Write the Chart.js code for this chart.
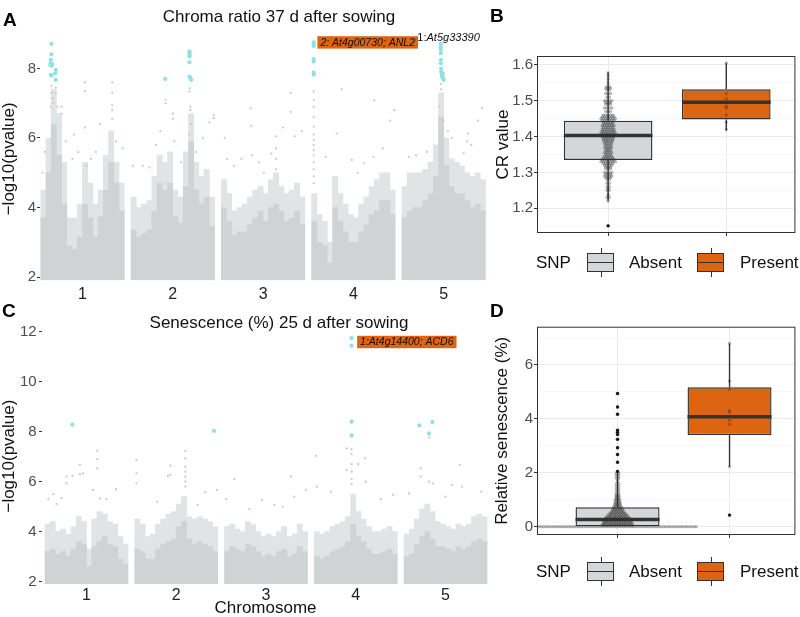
<!DOCTYPE html>
<html>
<head>
<meta charset="utf-8">
<script src="https://cdn.jsdelivr.net/npm/chart.js@4.4.1/dist/chart.umd.min.js"></script>
<style>
body { margin: 0; background: #fff; font-family: "Liberation Sans", Arial, sans-serif; }
#page { position: relative; width: 800px; height: 617px; overflow: hidden; }
canvas { position: absolute; }
.tag { position: absolute; font-weight: bold; font-size: 19px; line-height: 19px; color: #000; }
.lg { position: absolute; font-size: 17px; line-height: 17px; color: #111; white-space: nowrap; }
.key { position: absolute; width: 27px; height: 19px; border: 1px solid #333; box-sizing: border-box; }
.key i { position: absolute; background: #333; }
.key .mid { left: 0; right: 0; top: 7.8px; height: 1.5px; }
.key .wt, .key .wb { left: 12.5px; width: 1px; height: 5px; }
.key .wt { top: -6px; }
.key .wb { bottom: -6px; }
</style>
</head>
<body>
<div id="page">
  <canvas id="chartA" width="558" height="300" style="left:0;top:0"></canvas>
  <canvas id="chartC" width="558" height="317" style="left:0;top:300px"></canvas>
  <canvas id="chartB" width="320" height="245" style="left:480px;top:0"></canvas>
  <canvas id="chartD" width="320" height="250" style="left:480px;top:300px"></canvas>

  <div class="tag" style="left:3px;top:9.5px">A</div>
  <div class="tag" style="left:490px;top:6px">B</div>
  <div class="tag" style="left:2px;top:301px">C</div>
  <div class="tag" style="left:490px;top:301px">D</div>

  <div class="lg" style="left:536px;top:254px">SNP</div>
  <div class="key" style="left:587px;top:253px;background:#d4d7d9"><i class="mid"></i><i class="wt"></i><i class="wb"></i></div>
  <div class="lg" style="left:629px;top:254px">Absent</div>
  <div class="key" style="left:697px;top:253px;background:#dd6410"><i class="mid"></i><i class="wt"></i><i class="wb"></i></div>
  <div class="lg" style="left:740px;top:254px">Present</div>

  <div class="lg" style="left:536px;top:563px">SNP</div>
  <div class="key" style="left:587px;top:562px;background:#d4d7d9"><i class="mid"></i><i class="wt"></i><i class="wb"></i></div>
  <div class="lg" style="left:629px;top:563px">Absent</div>
  <div class="key" style="left:697px;top:562px;background:#dd6410"><i class="mid"></i><i class="wt"></i><i class="wb"></i></div>
  <div class="lg" style="left:740px;top:563px">Present</div>
</div>

<script>
const FONT = '"Liberation Sans", Arial, sans-serif';
Chart.defaults.font.family = FONT;

const chromosomes = ['1', '2', '3', '4', '5'];
const chrSpan = 0.925;   // part of each chromosome slot that holds markers
const pBase = 1.92;

// ---- A: chroma ratio GWAS (16 bins per chromosome: solid band top, speckled top)
const chromaCore = [
  [3.7, 5.0, 6.4, 5.5, 4.1, 2.9, 2.8, 3.15, 4.1, 3.7, 3.15, 3.74, 4.5, 5.3, 4.7, 3.9],
  [3.35, 3.16, 3.25, 3.35, 3.9, 4.7, 4.5, 4.7, 3.74, 3.55, 4.6, 5.9, 4.5, 4.1, 4.3, 3.45],
  [4.0, 3.6, 3.2, 3.3, 3.3, 3.5, 3.7, 3.9, 3.6, 4.0, 4.1, 3.9, 3.6, 3.7, 3.9, 3.5],
  [3.6, 3.0, 2.9, 2.4, 4.0, 3.6, 3.3, 3.0, 3.0, 3.3, 3.5, 3.8, 3.9, 4.2, 4.2, 3.8],
  [3.7, 3.9, 4.0, 4.0, 4.2, 4.4, 4.9, 6.6, 5.2, 4.6, 4.4, 4.4, 4.2, 4.0, 4.1, 3.9]
];
const chromaHalo = [
  [4.5, 6.0, 7.4, 6.7, 5.3, 3.7, 3.7, 4.1, 5.3, 4.7, 4.1, 4.5, 5.5, 6.2, 5.3, 4.7],
  [4.3, 4.0, 4.1, 4.2, 4.9, 5.5, 5.3, 5.6, 4.5, 4.3, 5.6, 6.7, 5.3, 4.9, 5.1, 4.3],
  [4.8, 4.4, 3.9, 4.0, 4.1, 4.3, 4.5, 4.6, 4.4, 4.8, 5.0, 4.6, 4.4, 4.5, 4.7, 4.3],
  [4.4, 3.8, 3.6, 3.0, 4.9, 4.4, 4.1, 3.8, 3.7, 4.1, 4.3, 4.6, 4.8, 5.0, 5.0, 4.5],
  [4.6, 5.0, 5.0, 5.0, 5.1, 5.3, 5.8, 7.3, 6.0, 5.4, 5.3, 5.2, 5.0, 4.9, 5.0, 4.8]
];
// [chromosome, position in chromosome 0-1, -log10 p]
const chromaSparse = [
  [1,.128,7.5],[1,.128,7.3],[1,.14,7.15],[1,.15,7.0],[1,.12,6.9],[1,.18,7.45],[1,.18,7.3],[1,.2,6.9],
  [1,.25,6.9],[1,.25,6.7],[1,.53,7.6],[1,.53,7.35],[1,.53,6.3],[1,.71,6.4],[1,.4,6.1],[1,.856,7.6],
  [1,.856,7.3],[1,.856,6.95],[1,.856,6.8],[1,.856,6.55],[1,.98,5.7],[1,.6,5.4],[1,.55,5.2],[1,.38,5.4],
  [1,.45,5.6],[1,.3,5.9],[1,.66,5.6],[1,.9,5.9],[1,.05,5.6],[1,.02,5.0],
  [2,.415,7.1],[2,.415,7.0],[2,.5,6.7],[2,.5,6.55],[2,.94,6.45],[2,.99,6.66],[2,.99,6.57],[2,.35,6.2],
  [2,.02,5.2],[2,.14,5.2],[2,.22,5.15],[2,.70,7.43],[2,.70,7.34],[2,.71,6.9],[2,.71,6.8],[2,.72,6.4],
  [2,.70,6.1],[2,.86,6.0],[2,.52,5.9],[2,.6,5.3],[2,.78,5.6],[2,.3,5.8],
  [3,.04,6.0],[3,.07,5.4],[3,.35,6.85],[3,.36,6.35],[3,.37,5.5],[3,.24,5.4],[3,.83,7.3],[3,.83,6.75],
  [3,.74,6.3],[3,.655,6.05],[3,.655,5.7],[3,.655,5.4],[3,.655,5.1],[3,.965,6.2],[3,.88,6.05],[3,.51,5.0],
  [3,.6,5.55],[3,.15,5.2],[3,.45,5.3],
  [4,.025,7.34],[4,.025,7.1],[4,.025,6.9],[4,.025,6.6],[4,.025,6.33],[4,.025,6.1],[4,.025,5.95],[4,.025,5.8],
  [4,.025,5.65],[4,.025,5.5],[4,.025,5.3],[4,.025,5.1],[4,.025,4.9],[4,.025,4.7],[4,.36,7.4],[4,.75,7.08],
  [4,.99,6.8],[4,.94,6.5],[4,.3,6.13],[4,.48,5.37],[4,.63,5.27],[4,.74,5.46],[4,.17,5.46],[4,.55,5.0],[4,.85,5.7],
  [5,.466,7.55],[5,.47,7.4],[5,.96,6.86],[5,.91,6.5],[5,.79,6.13],[5,.78,5.9],[5,.085,5.46],[5,.17,5.5],
  [5,.74,5.56],[5,.83,5.8],[5,.3,5.6],[5,.55,6.2],[5,.6,6.0],[5,.45,6.9],[5,.5,6.5]
];
const chromaHits = [
  [1,.128,8.71],[1,.128,8.41],[1,.12,8.25],[1,.12,8.15],[1,.13,8.08],[1,.12,7.82],[1,.13,7.8],[1,.18,7.96],
  [1,.175,7.86],[1,.18,7.67],[1,.115,8.1],[1,.14,8.12],
  [2,.41,7.7],[2,.70,8.49],[2,.70,8.44],[2,.70,8.39],[2,.70,8.35],[2,.70,8.18],[2,.70,7.77],[2,.71,7.72],[2,.72,7.67],
  [4,.025,8.75],[4,.025,8.7],[4,.025,8.65],[4,.025,8.27],[4,.025,8.2],[4,.025,7.88],[4,.025,7.82],
  [5,.466,8.71],[5,.466,8.63],[5,.466,8.54],[5,.466,8.44],[5,.466,8.25],[5,.466,8.15],[5,.47,8.0],[5,.47,7.9],
  [5,.48,7.85],[5,.48,7.78],[5,.49,7.72],[5,.5,7.67],[5,.49,7.85]
];
const chromaLabels = [
  { chr: 4, pos: 0.025, value: 8.75, dx: 3.7, dy: 0, text: '2: At4g00730; ANL2', boxed: true },
  { chr: 5, pos: 0.466, value: 8.71, dx: -23.5, dy: -5.5, prefix: '1:', text: 'At5g33390' }
];
const chromaTicks = [2, 4, 6, 8];

// ---- C: senescence GWAS
const senCore = [
  [3.2, 3.3, 3.1, 3.2, 3.0, 3.3, 3.6, 3.5, 2.6, 3.4, 3.6, 3.8, 3.5, 3.4, 2.9, 2.7],
  [3.3, 3.2, 2.9, 2.9, 3.3, 3.5, 3.6, 3.7, 4.2, 4.4, 3.7, 3.5, 3.6, 3.5, 3.4, 3.2],
  [3.2, 3.4, 3.3, 3.2, 3.5, 3.4, 3.2, 3.0, 3.1, 3.0, 3.2, 3.3, 3.0, 3.1, 3.4, 3.2],
  [3.0, 2.9, 3.0, 3.2, 3.3, 3.4, 3.6, 4.3, 3.8, 3.6, 3.3, 3.1, 3.1, 3.2, 3.3, 3.1],
  [3.0, 3.1, 3.5, 3.8, 4.0, 3.7, 3.4, 3.4, 3.3, 3.2, 3.4, 3.3, 3.4, 3.6, 3.7, 3.6]
];
const senHalo = [
  [4.3, 4.4, 4.0, 4.1, 3.9, 4.2, 4.6, 4.4, 3.3, 4.5, 4.8, 4.7, 4.4, 4.3, 3.8, 3.5],
  [4.5, 4.3, 3.8, 3.9, 4.3, 4.5, 4.7, 4.8, 5.1, 5.4, 4.6, 4.5, 4.6, 4.5, 4.4, 4.2],
  [4.2, 4.3, 4.1, 4.0, 4.4, 4.3, 4.0, 3.8, 3.9, 3.8, 4.0, 4.2, 3.8, 3.9, 4.3, 4.0],
  [4.0, 3.9, 4.0, 4.2, 4.3, 4.4, 4.6, 5.5, 4.8, 4.5, 4.2, 4.0, 4.0, 4.1, 4.2, 4.0],
  [3.9, 4.1, 4.5, 4.9, 5.1, 4.8, 4.4, 4.3, 4.2, 4.1, 4.3, 4.2, 4.3, 4.6, 4.7, 4.6]
];
const senSparse = [
  [1,.63,7.24],[1,.63,6.9],[1,.63,6.53],[1,.42,6.67],[1,.42,6.3],[1,.26,6.2],[1,.26,5.93],[1,.33,6.23],
  [1,.1,5.5],[1,.14,5.1],[1,.855,5.7],[1,.58,5.67],[1,.66,5.33],[1,.74,5.3],[1,.46,6.33],[1,.2,5.35],[1,.04,5.3],
  [2,.02,6.87],[2,.02,6.33],[2,.02,5.93],[2,.43,6.64],[2,.43,6.27],[2,.4,6.23],[2,.61,7.23],[2,.61,6.93],
  [2,.61,6.6],[2,.61,6.4],[2,.61,6.2],[2,.61,6.0],[2,.61,5.8],[2,.85,5.57],[2,.99,5.67],[2,.755,5.07],[2,.27,5.2],
  [3,.12,6.1],[3,.02,5.3],[3,.8,6.2],[3,.84,5.4],[3,.98,5.67],[3,.6,5.07],[3,.45,5.27],[3,.3,4.9],[3,.7,5.0],
  [4,.39,7.33],[4,.02,7.03],[4,.61,6.93],[4,.53,6.7],[4,.39,6.47],[4,.03,5.8],[4,.62,6.0],[4,.95,5.47],
  [4,.45,7.3],[4,.45,7.1],[4,.45,6.7],[4,.45,6.4],[4,.45,6.1],[4,.45,5.9],[4,.2,5.6],[4,.8,5.3],
  [5,.3,7.77],[5,.67,6.67],[5,.2,6.53],[5,.35,5.93],[5,.06,5.53],[5,.58,5.87],[5,.93,5.6],[5,.7,5.8],
  [5,.2,6.2],[5,.3,6.0],[5,.5,5.4]
];
const senHits = [
  [1,.33,8.28],[2,.955,8.03],[4,.45,11.74],[4,.45,11.44],[4,.45,8.4],[4,.45,7.85],
  [5,.185,8.25],[5,.34,8.39],[5,.3,7.93]
];
const senLabels = [
  { chr: 4, pos: 0.45, value: 11.74, dx: 5.5, dy: 3.8, text: '1:At4g14400; ACD6', boxed: true }
];
const senTicks = [2, 4, 6, 8, 10, 12];

// ---- B / D: phenotype by SNP
const snpGroups = ['Absent', 'Present'];
const groupFills = ['#d4d7d9', '#dd6410'];

const crQ1 = [1.335, 1.448];
const crMedian = [1.403, 1.496];
const crQ3 = [1.444, 1.532];
const crLow = [1.221, 1.417];
const crHigh = [1.579, 1.605];
const crOutliers = [[1, 1.151]];
const crTicks = [1.2, 1.3, 1.4, 1.5, 1.6];
// [value, number of plants]
const crDotsAbsent = [
  [1.578,1],[1.57,1],[1.56,1],[1.55,1],[1.54,2],[1.535,3],[1.53,2],[1.52,3],[1.51,2],[1.50,4],[1.495,3],
  [1.49,3],[1.48,4],[1.47,3],[1.46,5],[1.455,6],[1.45,7],[1.445,6],[1.44,5],[1.435,5],[1.43,6],[1.425,5],
  [1.42,6],[1.415,6],[1.41,7],[1.405,6],[1.40,6],[1.395,5],[1.39,5],[1.385,4],[1.38,4],[1.375,3],[1.37,4],
  [1.365,3],[1.36,3],[1.355,4],[1.35,3],[1.345,4],[1.34,5],[1.335,6],[1.33,7],[1.325,5],[1.32,4],[1.315,3],
  [1.31,3],[1.30,4],[1.295,3],[1.29,4],[1.285,3],[1.28,2],[1.27,2],[1.26,2],[1.255,1],[1.25,2],[1.24,1],
  [1.235,1],[1.23,2],[1.22,1],[1.151,1]
];
const crDotsPresent = [[1.605,1],[1.52,1],[1.505,1],[1.495,1],[1.485,1],[1.48,1],[1.46,1],[1.44,1],[1.42,1]];

const senQ1 = [0, 3.40];
const senMedian = [0.27, 4.08];
const senQ3 = [0.72, 5.17];
const senLow = [0, 2.23];
const senHigh = [1.98, 6.8];
const senOutliers = [[1,4.94],[1,4.44],[1,4.17],[1,3.58],[1,3.5],[1,3.42],[1,3.24],[1,2.93],[1,2.68],[1,2.39],[1,2.05],[2,0.43]];
const senBoxTicks = [0, 2, 4, 6];
const senDotsAbsent = [
  [0,64],[0.05,13],[0.1,13],[0.15,12],[0.2,12],[0.25,11],[0.3,11],[0.35,10],[0.4,9],[0.45,8],[0.5,7],
  [0.55,6],[0.6,5],[0.65,5],[0.7,4],[0.75,4],[0.8,3],[0.85,3],[0.9,3],[0.95,2],[1.0,3],[1.05,2],[1.1,2],
  [1.15,2],[1.2,2],[1.3,2],[1.4,2],[1.5,2],[1.6,2],[1.7,1],[1.8,2],[1.9,2],[1.98,2],[2.05,1],[2.39,1],
  [2.68,1],[2.93,1],[3.24,1],[3.42,1],[3.5,1],[3.58,1],[4.17,1],[4.44,1],[4.94,1]
];
const senDotsPresent = [[6.8,1],[5.4,1],[5.1,1],[4.3,1],[4.25,1],[3.95,1],[3.8,1],[2.23,1],[0.43,1]];

const grey = '#d0d3d3';
const greyHalo = '#e1e4e4';
const cyan = '#90e0e4';
const orange = '#dd6410';

function chrX(chr, pos) {
  return (chr - 1) + pos * chrSpan;
}

// gene labels next to the top hits
const geneLabels = {
  id: 'geneLabels',
  afterDatasetsDraw(chart, args, opts) {
    const { ctx, scales: { x, y } } = chart;
    (opts.items || []).forEach(it => {
      const px = x.getPixelForValue(chrX(it.chr, it.pos)) + it.dx;
      const py = y.getPixelForValue(it.value) + it.dy;
      ctx.save();
      ctx.textBaseline = 'middle';
      ctx.fillStyle = '#111';
      if (it.boxed) {
        ctx.font = 'italic 10.5px ' + FONT;
        const w = ctx.measureText(it.text).width;
        ctx.fillStyle = orange;
        ctx.fillRect(px, py - 6.2, w + 6, 12.4);
        ctx.fillStyle = '#111';
        ctx.fillText(it.text, px + 3, py + 0.5);
      } else {
        ctx.font = '11px ' + FONT;
        ctx.fillText(it.prefix, px, py);
        const w0 = ctx.measureText(it.prefix).width;
        ctx.font = 'italic 11px ' + FONT;
        ctx.fillText(it.text, px + w0, py);
      }
      ctx.restore();
    });
  }
};

const panelBorder = {
  id: 'panelBorder',
  afterDraw(chart) {
    const { ctx, chartArea: a } = chart;
    ctx.save();
    ctx.strokeStyle = '#333';
    ctx.lineWidth = 1;
    ctx.strokeRect(a.left + 0.5, a.top + 0.5, a.width - 1, a.height - 1);
    ctx.restore();
  }
};

function manhattanDatasets(core, halo, sparse, hits) {
  const coreData = [], haloData = [];
  core.forEach((bins, c) => bins.forEach((v, b) => {
    const x = chrX(c + 1, (b + 0.5) / bins.length);
    coreData.push({ x: x, y: [pBase, v] });
    haloData.push({ x: x, y: [v - 0.05, halo[c][b]] });
  }));
  const toPt = p => ({ x: chrX(p[0], p[1]), y: p[2] });
  return [
    { type: 'scatter', data: hits.map(toPt), pointRadius: 2.1, backgroundColor: cyan, borderWidth: 0, order: 0 },
    { type: 'scatter', data: sparse.map(toPt), pointRadius: 1.1, backgroundColor: '#c6caca', borderWidth: 0, order: 1 },
    { type: 'bar', data: coreData, backgroundColor: grey, grouped: false, barPercentage: 1, categoryPercentage: 1, order: 2 },
    { type: 'bar', data: haloData, backgroundColor: greyHalo, grouped: false, barPercentage: 1, categoryPercentage: 1, order: 3 }
  ];
}

function manhattanChart(id, cfg) {
  return new Chart(document.getElementById(id), {
    type: 'bar',
    data: { datasets: manhattanDatasets(cfg.core, cfg.halo, cfg.sparse, cfg.hits) },
    options: {
      responsive: false,
      animation: false,
      layout: { padding: 0 },
      plugins: {
        legend: { display: false },
        tooltip: { enabled: false },
        title: {
          display: true, text: cfg.title, color: '#111',
          font: { size: 17, weight: 'normal', family: FONT },
          padding: cfg.titlePad
        },
        geneLabels: { items: cfg.labels }
      },
      scales: {
        x: {
          type: 'linear', min: cfg.xMin, max: cfg.xMax, offset: false,
          grid: { display: false, drawTicks: false },
          border: { display: false },
          afterBuildTicks: s => { s.ticks = chromosomes.map((c, i) => ({ value: chrX(i + 1, 0.5) })); },
          ticks: {
            callback: (v, i) => chromosomes[i], autoSkip: false, maxRotation: 0,
            color: '#222', font: { size: 16, family: FONT }, padding: cfg.xPad
          },
          title: {
            display: !!cfg.xTitle, text: cfg.xTitle || '', color: '#111',
            font: { size: 17, family: FONT }, padding: { top: 0, bottom: -1.6 }
          },
          afterFit: s => { s.height = cfg.xHeight; }
        },
        y: {
          min: cfg.yMin, max: cfg.yMax, beginAtZero: false,
          afterBuildTicks: s => { s.ticks = cfg.ticks.map(v => ({ value: v })); },
          grid: { drawOnChartArea: false, drawTicks: true, tickLength: 3, tickColor: '#333' },
          border: { display: false },
          ticks: { color: '#4d4d4d', font: { size: 15, family: FONT }, padding: cfg.yPad },
          title: {
            display: true, text: '\u2212log10(pvalue)', color: '#111',
            font: { size: 17, family: FONT }, padding: { top: -1, bottom: 0 }
          },
          afterFit: s => { s.width = cfg.yWidth; }
        },
        pad: {
          type: 'linear', position: 'right', display: true,
          ticks: { display: false }, grid: { display: false }, border: { display: false },
          afterFit: s => { s.width = cfg.rightPad; }
        }
      }
    },
    plugins: [geneLabels]
  });
}

manhattanChart('chartA', {
  core: chromaCore, halo: chromaHalo, sparse: chromaSparse, hits: chromaHits, labels: chromaLabels,
  title: 'Chroma ratio 37 d after sowing', titlePad: { top: 7.4, bottom: 9.4 },
  xMin: -0.008, xMax: 4.931, xPad: 4, xHeight: 19.5,
  yMin: 1.9, yMax: 8.9, ticks: chromaTicks, yPad: 1, yWidth: 40, rightPad: 72
});

manhattanChart('chartC', {
  core: senCore, halo: senHalo, sparse: senSparse, hits: senHits, labels: senLabels,
  title: 'Senescence (%) 25 d after sowing', titlePad: { top: 13.3, bottom: -7.0 },
  xMin: -0.0334, xMax: 4.947, xPad: 1, xHeight: 31.55, xTitle: 'Chromosome',
  yMin: 1.85, yMax: 12.2, ticks: senTicks, yPad: 2.3, yWidth: 42, rightPad: 69
});

function stackDots(bins, center, step) {
  const pts = [];
  bins.forEach(([v, n]) => {
    for (let j = 0; j < n; j++) pts.push({ x: center + (j - (n - 1) / 2) * step, y: v });
  });
  return pts;
}

function boxDatasets(q1, med, q3, lo, hi) {
  const half = 0.375;
  return [
    {
      type: 'bar', data: snpGroups.map((g, i) => ({ x: i + 1, y: [q1[i], q3[i]] })),
      backgroundColor: groupFills, borderColor: '#333', borderWidth: 1.4, borderSkipped: false,
      grouped: false, barPercentage: 0.75, categoryPercentage: 1, order: 5
    },
    {
      type: 'line',
      data: snpGroups.flatMap((g, i) => [
        { x: i + 1, y: hi[i] }, { x: i + 1, y: q3[i] }, { x: i + 1, y: null },
        { x: i + 1, y: q1[i] }, { x: i + 1, y: lo[i] }, { x: i + 1, y: null }
      ]),
      borderColor: '#333', borderWidth: 1.4, pointRadius: 0, spanGaps: false, order: 6
    },
    {
      type: 'line',
      data: snpGroups.flatMap((g, i) => [
        { x: i + 1 - half, y: med[i] }, { x: i + 1 + half, y: med[i] }, { x: i + 1 + half, y: null }
      ]),
      borderColor: '#333', borderWidth: 3.5, borderCapStyle: 'butt', pointRadius: 0, spanGaps: false, order: 4
    }
  ];
}

function boxChart(id, cfg) {
  const step = cfg.ticks[1] - cfg.ticks[0];
  const minor = cfg.ticks.flatMap(v => [v - step / 2, v + step / 2])
    .filter((v, i, a) => v > cfg.yMin && v < cfg.yMax && a.indexOf(v) === i);
  const isMajor = v => cfg.ticks.some(t => Math.abs(t - v) < 1e-9);
  const dotStyle = {
    type: 'scatter', pointRadius: 1.3, backgroundColor: 'rgba(60,60,60,0.28)',
    borderColor: 'rgba(40,40,40,0.38)', borderWidth: 0.6, order: 2
  };
  return new Chart(document.getElementById(id), {
    type: 'bar',
    data: {
      datasets: [
        ...boxDatasets(cfg.q1, cfg.med, cfg.q3, cfg.lo, cfg.hi),
        Object.assign({ data: stackDots(cfg.dots[0], 1, cfg.dotStep) }, dotStyle),
        Object.assign({ data: stackDots(cfg.dots[1], 2, cfg.dotStep) }, dotStyle),
        {
          type: 'scatter', data: cfg.outliers.map(([g, v]) => ({ x: g, y: v })),
          pointRadius: 1.7, backgroundColor: '#1a1a1a', borderWidth: 0, order: 1
        }
      ]
    },
    options: {
      responsive: false,
      animation: false,
      layout: { padding: { top: cfg.top, right: 4, left: 0, bottom: 0 } },
      plugins: { legend: { display: false }, tooltip: { enabled: false } },
      scales: {
        x: {
          type: 'linear', min: cfg.xMin, max: cfg.xMax, offset: false,
          afterBuildTicks: s => { s.ticks = snpGroups.map((g, i) => ({ value: i + 1 })); },
          ticks: { callback: () => '', autoSkip: false },
          grid: { color: '#ebebeb', offset: false, drawTicks: true, tickLength: 3, tickColor: '#333' },
          border: { display: false },
          afterFit: s => { s.height = cfg.xHeight; }
        },
        y: {
          min: cfg.yMin, max: cfg.yMax, beginAtZero: false,
          afterBuildTicks: s => { s.ticks = cfg.ticks.concat(minor).sort((a, b) => a - b).map(v => ({ value: v })); },
          grid: {
            color: c => isMajor(c.tick.value) ? '#ebebeb' : '#f3f3f3',
            lineWidth: c => isMajor(c.tick.value) ? 1 : 0.6,
            tickColor: c => isMajor(c.tick.value) ? '#333' : 'rgba(0,0,0,0)',
            drawTicks: true, tickLength: 3
          },
          border: { display: false },
          ticks: {
            callback: v => isMajor(v) ? v.toFixed(cfg.decimals) : '',
            color: '#4d4d4d', font: { size: 15, family: FONT }, padding: 1, autoSkip: false
          },
          title: {
            display: true, text: cfg.yTitle, color: '#111',
            font: { size: 17, family: FONT }, padding: { top: cfg.titleOffset, bottom: 0 }
          },
          afterFit: s => { s.width = 57; }
        }
      }
    },
    plugins: [panelBorder]
  });
}

boxChart('chartB', {
  q1: crQ1, med: crMedian, q3: crQ3, lo: crLow, hi: crHigh, outliers: crOutliers,
  dots: [crDotsAbsent, crDotsPresent], dotStep: 0.0205,
  ticks: crTicks, decimals: 1, yMin: 1.131, yMax: 1.625, xMin: 0.398, xMax: 2.585,
  top: 56, xHeight: 12, yTitle: 'CR value', titleOffset: 13.3
});

boxChart('chartD', {
  q1: senQ1, med: senMedian, q3: senQ3, lo: senLow, hi: senHigh, outliers: senOutliers,
  dots: [senDotsAbsent, senDotsPresent], dotStep: 0.0223,
  ticks: senBoxTicks, decimals: 0, yMin: -0.308, yMax: 7.42, xMin: 0.281, xMax: 2.588,
  top: 26.7, xHeight: 15, yTitle: 'Relative senescence (%)', titleOffset: 12.3
});
</script>
</body>
</html>
